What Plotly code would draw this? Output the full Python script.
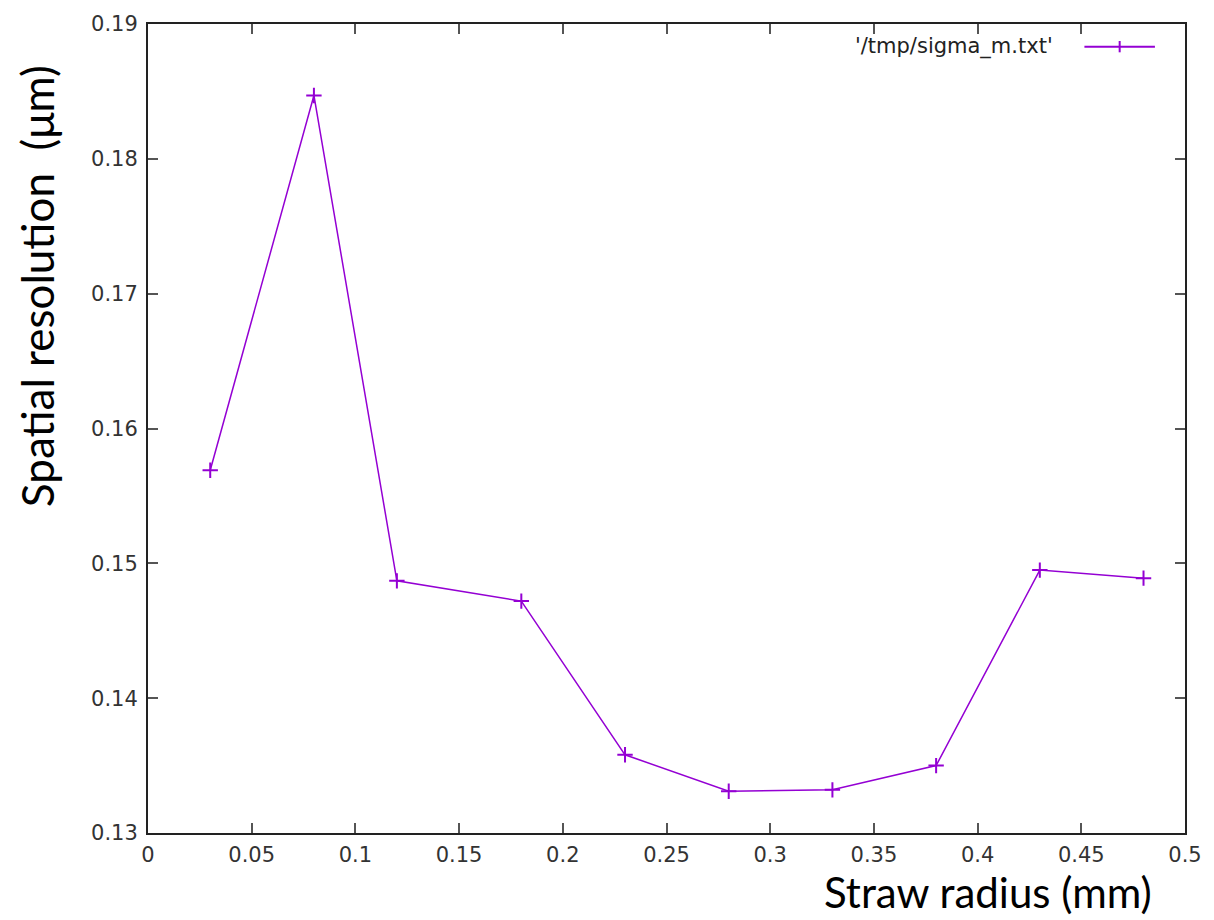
import plotly.graph_objects as go

radius = [0.03, 0.08, 0.12, 0.18, 0.23, 0.28, 0.33, 0.38, 0.43, 0.48]
sigma = [0.1569, 0.1847, 0.1487, 0.1472, 0.1358, 0.1331, 0.1332, 0.1350, 0.1495, 0.1489]
x_ticks = [0, 0.05, 0.1, 0.15, 0.2, 0.25, 0.3, 0.35, 0.4, 0.45, 0.5]
x_labels = ["0", "0.05", "0.1", "0.15", "0.2", "0.25", "0.3", "0.35", "0.4", "0.45", "0.5"]
y_ticks = [0.13, 0.14, 0.15, 0.16, 0.17, 0.18, 0.19]
y_labels = ["0.13", "0.14", "0.15", "0.16", "0.17", "0.18", "0.19"]
legend_label = "'/tmp/sigma_m.txt'"

COLOR = "#9400D3"
AXIS = "#222222"
TICKFONT = dict(family="DejaVu Sans", size=21, color="#333333")

fig = go.Figure()
fig.add_trace(go.Scatter(
    x=radius, y=sigma, mode="lines+markers",
    line=dict(color=COLOR, width=1.5),
    marker=dict(symbol="cross-thin", size=11, line=dict(color=COLOR, width=2)),
    showlegend=False,
))

fig.update_layout(
    width=1214, height=920,
    margin=dict(l=148, r=26, t=12, b=87),
    paper_bgcolor="white", plot_bgcolor="white",
    xaxis=dict(range=[0, 0.5], tickvals=x_ticks, ticktext=x_labels,
               showgrid=False, zeroline=False, showline=True, linewidth=2,
               linecolor=AXIS, mirror="ticks", ticks="inside", ticklen=10,
               tickwidth=2, tickcolor="#555555", tickfont=TICKFONT,
               ticklabelstandoff=2),
    yaxis=dict(range=[0.13, 0.19], tickvals=y_ticks, ticktext=y_labels,
               showgrid=False, zeroline=False, showline=True, linewidth=2,
               linecolor=AXIS, mirror="ticks", ticks="inside", ticklen=10,
               tickwidth=2, tickcolor="#555555", tickfont=TICKFONT,
               ticklabelstandoff=4),
    annotations=[
        dict(text="Spatial resolution  (μm)", xref="paper", yref="paper",
             x=-0.107, y=0.676, textangle=-90, showarrow=False,
             font=dict(family="Lato", size=44, color="black"),
             xanchor="center", yanchor="middle"),
        dict(text="Straw radius (mm)", xref="paper", yref="paper",
             x=0.81, y=-0.1065, showarrow=False,
             font=dict(family="Lato", size=42, color="black"),
             xanchor="center", yanchor="bottom"),
        dict(text=legend_label, xref="paper", yref="paper",
             x=0.875, y=0.972, showarrow=False,
             font=dict(family="DejaVu Sans", size=21, color="#222222"),
             xanchor="right", yanchor="middle"),
    ],
    shapes=[
        dict(type="line", xref="paper", yref="paper", x0=0.903, x1=0.971,
             y0=0.972, y1=0.972, line=dict(color=COLOR, width=2)),
        dict(type="line", xref="paper", yref="paper", x0=0.937, x1=0.937,
             y0=0.965, y1=0.979, line=dict(color=COLOR, width=2)),
    ],
)

fig.write_html("out.html")
